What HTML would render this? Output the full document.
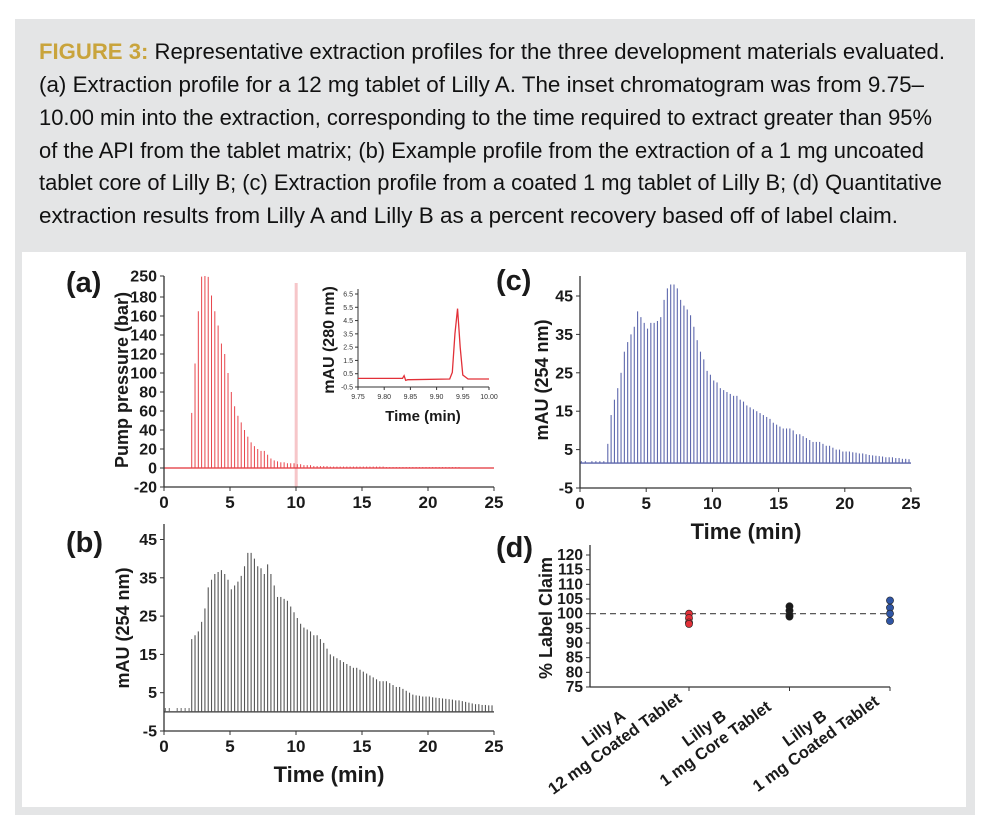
<!DOCTYPE html>
<html><head><meta charset="utf-8"><style>
html,body{margin:0;padding:0;background:#fff;}
svg{display:block;font-family:"Liberation Sans",Arial,sans-serif;}
.b{font-weight:bold;fill:#1a1a1a;}
</style></head><body>
<svg id="fig" width="989" height="830" viewBox="0 0 989 830">
<rect x="15" y="19" width="960" height="796" fill="#e4e5e6"/>
<rect x="22" y="252" width="944" height="555" fill="#ffffff"/>
<g font-size="22" fill="#111">
<text x="39" y="59" textLength="906" lengthAdjust="spacingAndGlyphs"><tspan fill="#c9a43c" font-weight="bold">FIGURE 3:</tspan> Representative extraction profiles for the three development materials evaluated.</text>
<text x="39" y="92" textLength="885" lengthAdjust="spacingAndGlyphs">(a) Extraction profile for a 12 mg tablet of Lilly A. The inset chromatogram was from 9.75–</text>
<text x="39" y="125" textLength="893" lengthAdjust="spacingAndGlyphs">10.00 min into the extraction, corresponding to the time required to extract greater than 95%</text>
<text x="39" y="158" textLength="885" lengthAdjust="spacingAndGlyphs">of the API from the tablet matrix; (b) Example profile from the extraction of a 1 mg uncoated</text>
<text x="39" y="190" textLength="903" lengthAdjust="spacingAndGlyphs">tablet core of Lilly B; (c) Extraction profile from a coated 1 mg tablet of Lilly B; (d) Quantitative</text>
<text x="39" y="223" textLength="859" lengthAdjust="spacingAndGlyphs">extraction results from Lilly A and Lilly B as a percent recovery based off of label claim.</text>
</g>
<g id="pa"></g>
<g id="pins"></g>
<g id="pb"></g>
<g id="pc"></g>
<g id="pd"></g>
</svg>
<script>
// ---- data ----
const aStart = 2.1, barStep = 0.25;
const aValues = [58,110,165,248,250,247,185,165,150,131,120,100,80,65,55,48,40,33,27,23,20,18,18,14,10,8,7,6,6,5,5,5,4,4,3,3,3,2,2,2,2,2,1.5,1.5,1.5,1.5,1.5,1.5,1.5,1.5,1.5,1.5,1.5,1.5,1.5,1.5,1.5,1.5,1.5,1,1,1,1,1,1,1,1,1,1,1,1,1,1,1,1,1,1,1,1,1,1,1];
const aTicksY = [250,180,160,140,120,100,80,60,40,20,0,-20];
const xTicks = [0,5,10,15,20,25];
const insetTimes = [9.75,9.835,9.838,9.841,9.845,9.85,9.925,9.93,9.935,9.94,9.945,9.95,9.96,10.0];
const insetValues = [0.15,0.15,0.35,0.0,0.05,0.05,0.1,0.6,3.5,5.4,2.5,0.4,0.1,0.1];
const insetTicksY = [-0.5,0.5,1.5,2.5,3.5,4.5,5.5,6.5];
const insetTicksX = ["9.75","9.80","9.85","9.90","9.95","10.00"];
const bValues = [19,20,21,23.5,27,32.5,34.5,36,36.5,37,36,34.5,32,33,34,35.5,38,41.5,41.5,40,38,37.5,36,38.5,36,33,30,30,29.5,29,27.5,26,24.5,23,22,21.5,21,20,20,19,18,16.5,15,14.5,14,13.5,13,12.5,12,11.5,11.5,11,10.5,10,9.5,9,8.5,8,8,8,7.5,7,6.5,6.5,6,5.5,5,4.5,4.3,4.2,4,4,4,3.8,3.7,3.6,3.5,3.4,3.3,3.2,3,3,2.8,2.6,2.4,2.2,2,2,1.8,1.8,1.7,1.7];
const cValues = [6.5,14,18,21,25,30.5,33,35,37,41,39.5,38,36.5,38,38,38.5,39.5,44,47,48,48,47,44,42.5,41.5,40,37,33.5,30.5,28.5,25.5,24.5,23,22.5,21,20.5,20,19.5,19,19,18,17.5,16.5,16,15.5,15,14.5,14,13.5,13,12,11.5,11,10.5,10.5,10.5,10,9,9,8.5,8,7.5,7,7,7,6.5,6,6,5.5,5,5,4.5,4.5,4.5,4.3,4.2,4,4,3.8,3.6,3.5,3.4,3.3,3.2,3,3,3,2.8,2.8,2.6,2.6,2.5];
const mauTicks = [45,35,25,15,5,-5];
const dCategories = [["Lilly A","12 mg Coated Tablet"],["Lilly B","1 mg Core Tablet"],["Lilly B","1 mg Coated Tablet"]];
const dValues = [[100,98.5,97,96.5],[102.5,101,99.5,99],[104.5,102,100,97.5]];
const dColors = ["#e23038","#1a1a1a","#2f55a4"];
const dTicks = [120,115,110,105,100,95,90,85,80,75];

const NS="http://www.w3.org/2000/svg";
function mk(parent,tag,attrs,txt){const e=document.createElementNS(NS,tag);for(const k in attrs)e.setAttribute(k,attrs[k]);if(txt!==undefined)e.textContent=txt;parent.appendChild(e);return e;}

function axes(g,x0,x1,yTop,yBot,xs,ys,yTickVals,yTickLab,fontY){
  let l=mk(g,'line',{x1:x0,y1:yTop,x2:x0,y2:yBot,stroke:'#333','stroke-width':1.3});
  
  
  l=mk(g,'line',{x1:x0,y1:yBot,x2:x1,y2:yBot,stroke:'#333','stroke-width':1.3});
  
  
  xTicks.forEach(t=>{const x=xs(t);mk(g,'line',{x1:x,y1:yBot,x2:x,y2:yBot+4,stroke:'#333'});
    const tx=mk(g,'text',{x:x,y:yBot+21,'text-anchor':'middle','font-size':17,class:'b'},t);
    
    });
  yTickVals.forEach((t,i)=>{const y=ys(t);mk(g,'line',{x1:x0-4,y1:y,x2:x0,y2:y,stroke:'#333'});
    const tx=mk(g,'text',{x:x0-7,y:y+5.5,'text-anchor':'end','font-size':fontY,class:'b'},yTickLab[i]);
    
    });
}
function bars(g,vals,xs,ys,base,color,w){
  vals.forEach((v,i)=>{const x=xs(aStart+i*barStep);const r=mk(g,'line',{x1:x,y1:ys(base),x2:x,y2:ys(v),stroke:color,'stroke-width':w});
    
    });
}
function label(g,x,y,s,txt,name,rot){
  const t=mk(g,'text',{x:x,y:y,'font-size':s,class:'b','text-anchor':rot?'middle':'start',transform:rot?`rotate(-90 ${x} ${y})`:''},txt);
  
  
  return t;
}

// ---- panel a ----
(function(){
  const g=document.getElementById('pa');
  const xs=t=>164+t*(330/25);
  const ys=v=>v>180?297-(v-180)*0.3:468-0.95*v;
  mk(g,'rect',{x:xs(9.9),y:283,width:3,height:204,fill:'#f6c6c9'});
  mk(g,'line',{x1:164,y1:468,x2:494,y2:468,stroke:'#e23038','stroke-width':1.2});
  bars(g,aValues,xs,ys,0,'#e8454b',1);
  axes(g,164,494,276,487,xs,ys,aTicksY,aTicksY,16);
  label(g,66,292,29,'(a)','panel-a-label');
  label(g,128,380,18,'Pump pressure (bar)','y-axis-title-a',true);
})();
// ---- inset ----
(function(){
  const g=document.getElementById('pins');
  const xs=t=>358+(t-9.75)*(131/0.25);
  const ys=v=>387-(v+0.5)*(93/7);
  mk(g,'line',{x1:358,y1:289,x2:358,y2:387,stroke:'#333'});
  mk(g,'line',{x1:358,y1:387,x2:489,y2:387,stroke:'#333'});
  insetTicksY.forEach(t=>{mk(g,'line',{x1:355,y1:ys(t),x2:358,y2:ys(t),stroke:'#333'});
    mk(g,'text',{x:353,y:ys(t)+2.5,'text-anchor':'end','font-size':7,fill:'#333'},t.toFixed(1));});
  insetTicksX.forEach(t=>{const x=xs(parseFloat(t));mk(g,'line',{x1:x,y1:387,x2:x,y2:390,stroke:'#333'});
    mk(g,'text',{x:x,y:399,'text-anchor':'middle','font-size':7,fill:'#333'},t);});
  const pts=insetTimes.map((t,i)=>xs(t)+','+ys(insetValues[i])).join(' ');
  const p=mk(g,'polyline',{points:pts,fill:'none',stroke:'#e23038','stroke-width':1.3});
  
  
  label(g,334,340,16,'mAU (280 nm)','inset-y-axis-title',true);
  const t=mk(g,'text',{x:423,y:421,'text-anchor':'middle','font-size':15,class:'b'},'Time (min)');
  
  
})();
// ---- panel b ----
(function(){
  const g=document.getElementById('pb');
  const xs=t=>164+t*(330/25);
  const ys=v=>731-(v+5)*3.83;
  mk(g,'line',{x1:164,y1:ys(0),x2:494,y2:ys(0),stroke:'#333','stroke-width':1.2});
  [0.1,0.4,1.0,1.3,1.6,1.9].forEach(t=>mk(g,'line',{x1:xs(t),y1:ys(0),x2:xs(t),y2:ys(1),stroke:'#666'}));
  bars(g,bValues,xs,ys,0,'#555',1.1);
  axes(g,164,494,524,731,xs,ys,mauTicks,mauTicks,16);
  label(g,66,552,29,'(b)','panel-b-label');
  label(g,129,628,18,'mAU (254 nm)','y-axis-title-b',true);
  const t=mk(g,'text',{x:329,y:782,'text-anchor':'middle','font-size':22,class:'b'},'Time (min)');
  
  
})();
// ---- panel c ----
(function(){
  const g=document.getElementById('pc');
  const xs=t=>580+t*(331/25);
  const ys=v=>488-(v+5)*3.84;
  mk(g,'line',{x1:580,y1:ys(1.5),x2:911,y2:ys(1.5),stroke:'#5a64aa','stroke-width':1.3});
  [0.1,0.4,0.9,1.2,1.5,1.8].forEach(t=>mk(g,'line',{x1:xs(t),y1:ys(1.5),x2:xs(t),y2:ys(2),stroke:'#5a64aa'}));
  bars(g,cValues,xs,ys,1.5,'#5e68ad',1.1);
  axes(g,580,911,276,488,xs,ys,mauTicks,mauTicks,16);
  label(g,496,290,29,'(c)','panel-c-label');
  label(g,548,380,18,'mAU (254 nm)','y-axis-title-c',true);
  const t=mk(g,'text',{x:746,y:539,'text-anchor':'middle','font-size':22,class:'b'},'Time (min)');
  
  
})();
// ---- panel d ----
(function(){
  const g=document.getElementById('pd');
  const ys=v=>687-(v-75)*(132/45);
  const catX=i=>689+i*100.5;
  mk(g,'line',{x1:590,y1:545,x2:590,y2:687,stroke:'#333','stroke-width':1.3});
  mk(g,'line',{x1:590,y1:687,x2:890,y2:687,stroke:'#333','stroke-width':1.3});
  dTicks.forEach(t=>{mk(g,'line',{x1:586,y1:ys(t),x2:590,y2:ys(t),stroke:'#333'});
    const tx=mk(g,'text',{x:583,y:ys(t)+5,'text-anchor':'end','font-size':15.5,class:'b'},t);
    
    });
  const dl=mk(g,'line',{x1:590,y1:ys(100),x2:890,y2:ys(100),stroke:'#444','stroke-width':1.2,'stroke-dasharray':'6,4'});
  
  
  dCategories.forEach((c,i)=>{
    const x=catX(i);
    mk(g,'line',{x1:x,y1:687,x2:x,y2:691,stroke:'#333'});
    const cx=x-71, cy=748;
    const tg=mk(g,'g',{transform:`translate(${cx},${cy}) rotate(-36)`});
    
    
    mk(tg,'text',{x:0,y:-19,'text-anchor':'middle','font-size':16.5,class:'b'},c[0]);
    mk(tg,'text',{x:0,y:0,'text-anchor':'middle','font-size':16.5,class:'b'},c[1]);
    dValues[i].forEach(v=>{const d=mk(g,'circle',{cx:x,cy:ys(v),r:3.6,fill:dColors[i],stroke:'#222','stroke-width':0.6});
      
      });
  });
  label(g,496,557,29,'(d)','panel-d-label');
  label(g,552,618,18,'% Label Claim','y-axis-title-d',true);
})();
</script>
</body></html>
